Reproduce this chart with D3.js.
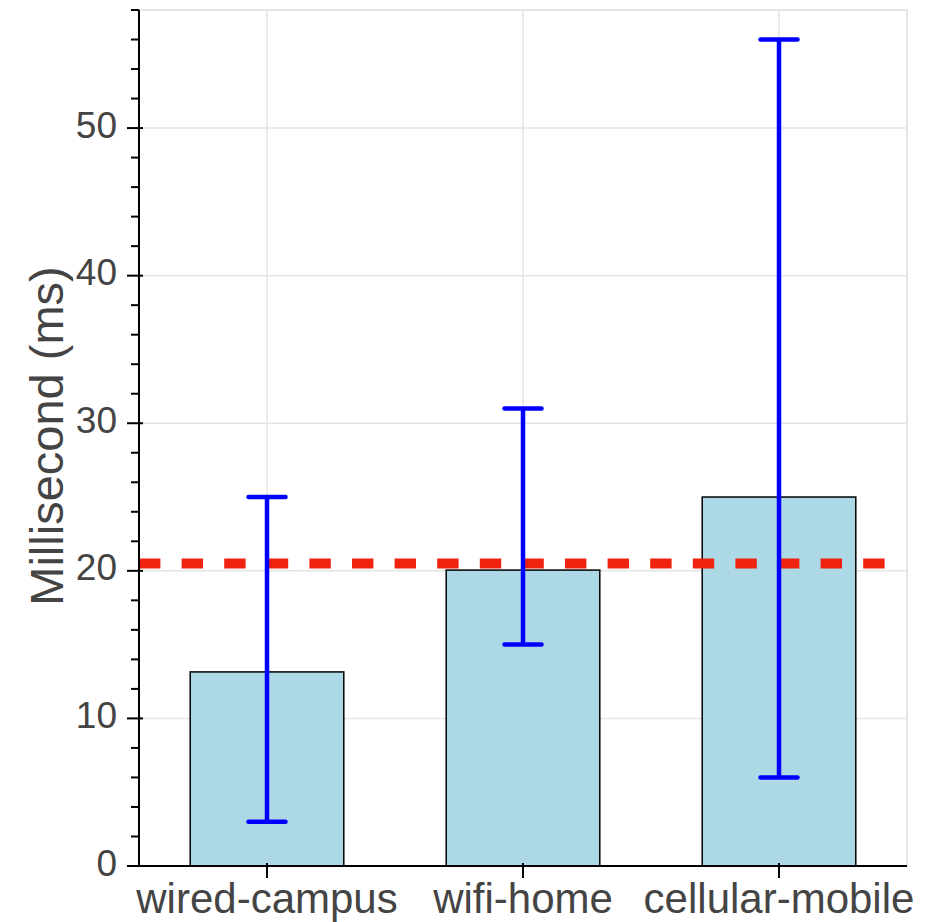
<!DOCTYPE html>
<html>
<head>
<meta charset="utf-8">
<script src="https://cdn.jsdelivr.net/npm/d3@7"></script>
<style>
  html, body { margin: 0; padding: 0; background: #fff; }
  svg { display: block; }
</style>
</head>
<body>
<svg id="chart" width="949" height="922"></svg>
<script>
const categories = ["wired-campus", "wifi-home", "cellular-mobile"];
const means = [13.15, 20.05, 25.0];
const lower = [3.0, 15.0, 6.0];
const upper = [25.0, 31.0, 56.0];
const referenceValue = 20.5;
const yTicks = [0, 10, 20, 30, 40, 50];
const yMinorTicks = d3.range(0, 59, 2);
const yDomain = [0, 58];

const margin = { left: 139, right: 42, top: 10, bottom: 56 };
const W = 949, H = 922;
const svg = d3.select("#chart");
const innerW = W - margin.left - margin.right;
const innerH = H - margin.top - margin.bottom;

const x = d3.scaleBand().domain(categories).range([margin.left, margin.left + innerW]).paddingInner(0).paddingOuter(0);
const y = d3.scaleLinear().domain(yDomain).range([margin.top + innerH, margin.top]);

const font = "'Liberation Sans', Arial, Helvetica, sans-serif";
const grid = "#e5e5e5";

// plot outline
svg.append("rect")
  .attr("x", margin.left).attr("y", margin.top)
  .attr("width", innerW).attr("height", innerH)
  .attr("fill", "none").attr("stroke", grid).attr("stroke-width", 2);

// grid lines
svg.append("g").selectAll("line").data(yTicks).join("line")
  .attr("x1", margin.left).attr("x2", margin.left + innerW)
  .attr("y1", d => y(d)).attr("y2", d => y(d))
  .attr("stroke", grid).attr("stroke-width", 1.5);
svg.append("g").selectAll("line").data(categories).join("line")
  .attr("x1", d => x(d) + x.bandwidth() / 2).attr("x2", d => x(d) + x.bandwidth() / 2)
  .attr("y1", margin.top).attr("y2", margin.top + innerH)
  .attr("stroke", grid).attr("stroke-width", 1.5);

// bars
const barW = x.bandwidth() * 0.6;
svg.append("g").selectAll("rect").data(categories).join("rect")
  .attr("x", d => x(d) + (x.bandwidth() - barW) / 2)
  .attr("width", barW)
  .attr("y", (d, i) => y(means[i]))
  .attr("height", (d, i) => y(0) - y(means[i]))
  .attr("fill", "#add8e6").attr("stroke", "#000").attr("stroke-width", 1.5);

// reference dashed line
svg.append("line")
  .attr("x1", margin.left).attr("x2", margin.left + innerW - 2)
  .attr("y1", y(referenceValue)).attr("y2", y(referenceValue))
  .attr("stroke", "rgb(240,34,16)").attr("stroke-width", 10)
  .attr("stroke-dasharray", "21.4,21.2");

// error bars
const eb = svg.append("g").attr("stroke", "#0000ff").attr("stroke-width", 4.5).attr("stroke-linecap", "round");
categories.forEach((c, i) => {
  const cx = x(c) + x.bandwidth() / 2;
  eb.append("line").attr("x1", cx).attr("x2", cx).attr("y1", y(lower[i])).attr("y2", y(upper[i])).attr("stroke-linecap", "butt");
  eb.append("line").attr("x1", cx - 18.5).attr("x2", cx + 18.5).attr("y1", y(upper[i])).attr("y2", y(upper[i]));
  eb.append("line").attr("x1", cx - 18.5).attr("x2", cx + 18.5).attr("y1", y(lower[i])).attr("y2", y(lower[i]));
});

// y axis
const yAxisG = svg.append("g");
yAxisG.append("line").attr("x1", margin.left).attr("x2", margin.left)
  .attr("y1", margin.top).attr("y2", margin.top + innerH)
  .attr("stroke", "#000").attr("stroke-width", 2);
yAxisG.selectAll("line.minor").data(yMinorTicks.filter(d => d % 10 !== 0)).join("line")
  .attr("class", "minor")
  .attr("x1", margin.left - 8).attr("x2", margin.left)
  .attr("y1", d => y(d)).attr("y2", d => y(d))
  .attr("stroke", "#000").attr("stroke-width", 2);
yAxisG.selectAll("line.major").data(yTicks).join("line")
  .attr("class", "major")
  .attr("x1", margin.left - 12).attr("x2", margin.left + 4)
  .attr("y1", d => y(d)).attr("y2", d => y(d))
  .attr("stroke", "#000").attr("stroke-width", 2);
yAxisG.selectAll("text").data(yTicks).join("text")
  .attr("x", margin.left - 22).attr("y", d => y(d))
  .attr("dy", "0.26em")
  .attr("text-anchor", "end")
  .attr("font-family", font).attr("font-size", 37).attr("fill", "#444")
  .text(d => d);

// x axis
const xAxisG = svg.append("g");
xAxisG.append("line").attr("x1", margin.left - 12).attr("x2", margin.left + innerW)
  .attr("y1", y(0)).attr("y2", y(0))
  .attr("stroke", "#000").attr("stroke-width", 2);
xAxisG.selectAll("line.tick").data(categories).join("line")
  .attr("class", "tick")
  .attr("x1", d => x(d) + x.bandwidth() / 2).attr("x2", d => x(d) + x.bandwidth() / 2)
  .attr("y1", y(0) - 3).attr("y2", y(0) + 12)
  .attr("stroke", "#000").attr("stroke-width", 2);
xAxisG.selectAll("text").data(categories).join("text")
  .attr("x", d => x(d) + x.bandwidth() / 2).attr("y", y(0) + 47)
  .attr("text-anchor", "middle")
  .attr("font-family", font).attr("font-size", 42).attr("fill", "#444")
  .text(d => d);

// y label
svg.append("text")
  .attr("transform", `translate(63, ${(margin.top + margin.top + innerH) / 2 - 2}) rotate(-90)`)
  .attr("text-anchor", "middle")
  .attr("font-family", font).attr("font-size", 47).attr("fill", "#444")
  .text("Millisecond (ms)");
</script>
</body>
</html>
